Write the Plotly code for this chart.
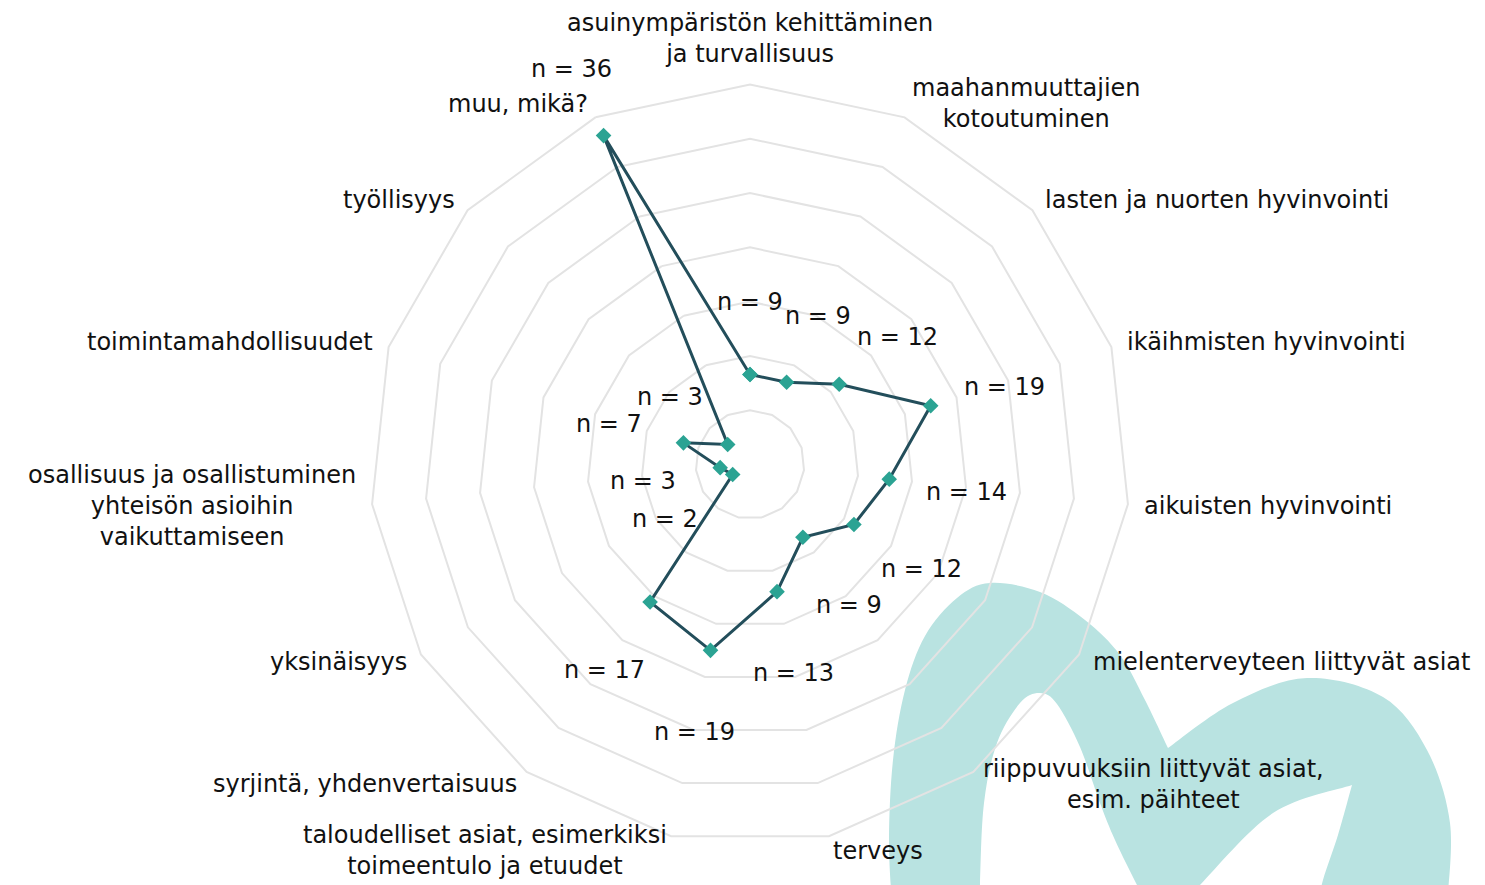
import math
import plotly.graph_objects as go

# ---------------- data ----------------
categories = [
    "asuinympäristön kehittäminen<br>ja turvallisuus",
    "maahanmuuttajien<br>kotoutuminen",
    "lasten ja nuorten hyvinvointi",
    "ikäihmisten hyvinvointi",
    "aikuisten hyvinvointi",
    "mielenterveyteen liittyvät asiat",
    "riippuvuuksiin liittyvät asiat,<br>esim. päihteet",
    "terveys",
    "taloudelliset asiat, esimerkiksi<br>toimeentulo ja etuudet",
    "syrjintä, yhdenvertaisuus",
    "yksinäisyys",
    "osallisuus ja osallistuminen<br>yhteisön asioihin<br>vaikuttamiseen",
    "toimintamahdollisuudet",
    "työllisyys",
    "muu, mikä?",
]
counts = [9, 9, 12, 19, 14, 12, 9, 13, 19, 17, 2, 3, 7, 3, 36]
value_labels = [f"n = {v}" for v in counts]
radial_max = 38
n_rings = 7

# ---------------- geometry / styling ----------------
OFF = 8                      # page body margin of the rendered html
Wf, Hf = 1485 - OFF, 885 - OFF
CXs, CYs, R = 750, 464.5, 380  # polar centre / radius on screen (px)
PXU = R / radial_max
NAME_GAP = 15
LABEL_GAP = 78
LABEL_DY = 5
FONT = "DejaVu Sans, Arial, sans-serif"
FS = 24
TXT = "#111111"
GRID = "#e3e3e3"


def to_paper(x, y):
    return (x - OFF) / Wf, 1 - (y - OFF) / Hf


def polar_screen(r_px, i):
    th = math.radians(i * 360 / len(categories))
    return CXs + r_px * math.sin(th), CYs - r_px * math.cos(th)


fig = go.Figure()

fig.add_trace(go.Scatterpolar(
    r=counts + counts[:1],
    theta=categories + categories[:1],
    mode="lines+markers",
    line=dict(color="#234e5b", width=3),
    marker=dict(symbol="diamond", size=12, color="#2ba393"),
    hoverinfo="skip",
))

annotations = []
# category names around the radar
for i, name in enumerate(categories):
    x, y = polar_screen(R + NAME_GAP, i)
    s = math.sin(math.radians(i * 360 / len(categories)))
    xa = "center" if abs(s) < 0.01 else ("left" if s > 0 else "right")
    ya = "bottom" if i == 0 else "middle"
    px, py = to_paper(x, y)
    annotations.append(dict(x=px, y=py, xref="paper", yref="paper", text=name,
                            showarrow=False, xanchor=xa, yanchor=ya, align="center",
                            borderpad=0, font=dict(family=FONT, size=FS, color=TXT)))
# value labels just outside each point
for i, (v, lab) in enumerate(zip(counts, value_labels)):
    x, y = polar_screen(v * PXU + LABEL_GAP, i)
    px, py = to_paper(x, y + LABEL_DY)
    annotations.append(dict(x=px, y=py, xref="paper", yref="paper", text=lab,
                            showarrow=False, xanchor="center", yanchor="middle",
                            borderpad=0, font=dict(family=FONT, size=FS, color=TXT)))


# decorative logo shape (background, bottom right)
def pp(p):
    return to_paper(p[0], p[1])


def smooth(pts):
    out = []
    n = len(pts)
    for i in range(n - 1):
        p0 = pts[i - 1] if i > 0 else pts[i]
        p1 = pts[i]
        p2 = pts[i + 1]
        p3 = pts[i + 2] if i + 2 < n else pts[i + 1]
        c1 = (p1[0] + (p2[0] - p0[0]) / 6, p1[1] + (p2[1] - p0[1]) / 6)
        c2 = (p2[0] - (p3[0] - p1[0]) / 6, p2[1] - (p3[1] - p1[1]) / 6)
        a, b, c = pp(c1), pp(c2), pp(p2)
        out.append(f"C{a[0]:.5f},{a[1]:.5f} {b[0]:.5f},{b[1]:.5f} {c[0]:.5f},{c[1]:.5f}")
    return " ".join(out)


def lineto(p):
    q = pp(p)
    return f"L{q[0]:.5f},{q[1]:.5f}"


seg_a = [(892, 905), (889, 840), (893, 760), (905, 690), (925, 636), (957, 598),
         (990, 583), (1040, 592), (1085, 620), (1120, 655), (1145, 700), (1168, 748)]
seg_b = [(1168, 748), (1233, 703), (1307, 678), (1383, 697), (1427, 750), (1450, 823), (1447, 905)]
seg_c = [(1318, 905), (1323, 880), (1338, 835), (1352, 785)]
seg_d = [(1352, 785), (1273, 813), (1200, 885), (1183, 905)]
seg_e = [(1148, 905), (1137, 885), (1115, 840), (1100, 803), (1080, 747), (1057, 704),
         (1040, 693), (1020, 703), (997, 743), (984, 803), (980, 885), (980, 905)]

start = pp(seg_a[0])
path = (f"M{start[0]:.5f},{start[1]:.5f} " + smooth(seg_a) + " " + smooth(seg_b) + " "
        + lineto(seg_c[0]) + " " + smooth(seg_c) + " " + smooth(seg_d) + " "
        + lineto(seg_e[0]) + " " + smooth(seg_e) + " Z")

fig.add_shape(type="path", path=path, xref="paper", yref="paper",
              fillcolor="#b9e3e1", line=dict(width=0), layer="below")

dx0, dy_top = to_paper(CXs - R, CYs - R)
dx1, dy_bot = to_paper(CXs + R, CYs + R)

fig.update_layout(
    width=Wf, height=Hf,
    margin=dict(l=0, r=0, t=0, b=0),
    paper_bgcolor="white",
    showlegend=False,
    font=dict(family=FONT, size=FS, color=TXT),
    annotations=annotations,
    polar=dict(
        domain=dict(x=[dx0, dx1], y=[dy_bot, dy_top]),
        bgcolor="rgba(0,0,0,0)",
        gridshape="linear",
        radialaxis=dict(
            range=[0, radial_max],
            tickvals=[radial_max * k / n_rings for k in range(1, n_rings + 1)],
            showticklabels=False, ticks="", showline=False,
            gridcolor=GRID, gridwidth=2,
        ),
        angularaxis=dict(
            rotation=90, direction="clockwise",
            showgrid=False, showline=True, linecolor=GRID, linewidth=2,
            ticks="", showticklabels=False,
        ),
    ),
)

fig.write_html("out.html")
